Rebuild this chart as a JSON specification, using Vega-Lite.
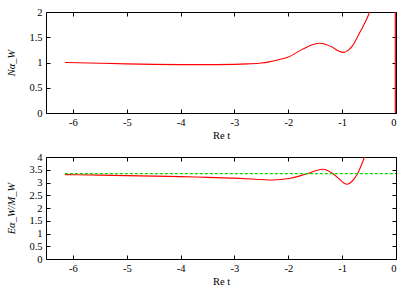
{
  "$schema": "https://vega.github.io/schema/vega-lite/v6.json",
  "padding": {"left": 6, "top": 6, "right": 5, "bottom": 1},
  "spacing": 9,
  "config": {
    "view": {"stroke": "black", "strokeWidth": 1},
    "axis": {
      "labelFont": "Times New Roman", "labelFontSize": 10.5, "labelColor": "black",
      "titleFont": "Times New Roman", "titleFontSize": 10.5, "titleFontWeight": "normal", "titleColor": "black",
      "domain": false, "grid": false, "tickColor": "black", "tickSize": 4, "offset": -4, "labelPadding": 4,
      "labelExpr": "datum.value + ''"
    }
  },
  "vconcat": [
    {
      "width": 350, "height": 101,
      "resolve": {"axis": {"x": "independent", "y": "independent"}},
      "layer": [
        {
          "data": {"values": [
            {"t": -6.15, "v": 1.0},
            {"t": -5.5, "v": 0.985},
            {"t": -5.0, "v": 0.972},
            {"t": -4.5, "v": 0.962},
            {"t": -4.0, "v": 0.957},
            {"t": -3.5, "v": 0.957},
            {"t": -3.0, "v": 0.962},
            {"t": -2.75, "v": 0.972},
            {"t": -2.5, "v": 0.99},
            {"t": -2.36, "v": 1.013},
            {"t": -2.2, "v": 1.05},
            {"t": -2.0, "v": 1.11},
            {"t": -1.74, "v": 1.26},
            {"t": -1.58, "v": 1.34},
            {"t": -1.43, "v": 1.38},
            {"t": -1.3, "v": 1.355},
            {"t": -1.18, "v": 1.30},
            {"t": -1.07, "v": 1.23},
            {"t": -0.97, "v": 1.20},
            {"t": -0.89, "v": 1.24},
            {"t": -0.81, "v": 1.33},
            {"t": -0.69, "v": 1.56},
            {"t": -0.6, "v": 1.74},
            {"t": -0.5, "v": 1.97},
            {"t": -0.4, "v": 2.3},
            {"t": -0.3, "v": 2.8}
          ]},
          "mark": {"type": "line", "color": "#ff0000", "strokeWidth": 1.1, "clip": true, "interpolate": "monotone"},
          "encoding": {
            "x": {"field": "t", "type": "quantitative", "scale": {"domain": [-6.5, 0], "nice": false},
                  "axis": {"values": [-6, -5, -4, -3, -2, -1, 0], "title": "Re t", "titlePadding": 3, "labelPadding": 4}},
            "y": {"field": "v", "type": "quantitative", "scale": {"domain": [0, 2], "nice": false},
                  "axis": {"values": [0, 0.5, 1, 1.5, 2], "title": "Nα_W", "titleFontStyle": "italic", "titlePadding": 12}}
          }
        },
        {
          "data": {"values": [{"t": -0.012, "v": 0, "v2": 2}]},
          "mark": {"type": "rule", "color": "#ff0000", "strokeWidth": 1.2},
          "encoding": {
            "x": {"field": "t", "type": "quantitative", "axis": {"values": [-6, -5, -4, -3, -2, -1, 0], "labels": false, "title": null}},
            "y": {"field": "v", "type": "quantitative", "axis": {"values": [0, 0.5, 1, 1.5, 2], "labels": false, "title": null}},
            "y2": {"field": "v2"}
          }
        }
      ]
    },
    {
      "width": 350, "height": 102,
      "resolve": {"axis": {"x": "independent", "y": "independent"}},
      "layer": [
        {
          "data": {"values": [
            {"t": -6.15, "v": 3.31},
            {"t": -5.5, "v": 3.29},
            {"t": -5.0, "v": 3.27},
            {"t": -4.5, "v": 3.25},
            {"t": -4.0, "v": 3.23},
            {"t": -3.5, "v": 3.20},
            {"t": -3.0, "v": 3.17},
            {"t": -2.6, "v": 3.13},
            {"t": -2.36, "v": 3.10},
            {"t": -2.2, "v": 3.11},
            {"t": -1.99, "v": 3.16},
            {"t": -1.8, "v": 3.25},
            {"t": -1.62, "v": 3.36},
            {"t": -1.48, "v": 3.47},
            {"t": -1.37, "v": 3.52},
            {"t": -1.27, "v": 3.47},
            {"t": -1.18, "v": 3.36},
            {"t": -1.05, "v": 3.13},
            {"t": -0.97, "v": 2.98},
            {"t": -0.905, "v": 2.93},
            {"t": -0.82, "v": 3.04},
            {"t": -0.72, "v": 3.32},
            {"t": -0.6, "v": 3.91},
            {"t": -0.5, "v": 4.5}
          ]},
          "mark": {"type": "line", "color": "#ff0000", "strokeWidth": 1.1, "clip": true, "interpolate": "monotone"},
          "encoding": {
            "x": {"field": "t", "type": "quantitative", "scale": {"domain": [-6.5, 0], "nice": false},
                  "axis": {"values": [-6, -5, -4, -3, -2, -1, 0], "title": "Re t", "titlePadding": 3, "labelPadding": 4}},
            "y": {"field": "v", "type": "quantitative", "scale": {"domain": [0, 4], "nice": false},
                  "axis": {"values": [0, 0.5, 1, 1.5, 2, 2.5, 3, 3.5, 4], "title": "Eα_W/M_W", "titleFontStyle": "italic", "titlePadding": 12}}
          }
        },
        {
          "data": {"values": [
            {"t": -6.15, "v": 3.35},
            {"t": 0, "v": 3.35}
          ]},
          "mark": {"type": "line", "color": "#00dd00", "strokeWidth": 1.2, "strokeDash": [3, 2], "clip": true},
          "encoding": {
            "x": {"field": "t", "type": "quantitative", "axis": {"values": [-6, -5, -4, -3, -2, -1, 0], "labels": false, "title": null}},
            "y": {"field": "v", "type": "quantitative", "axis": {"values": [0, 0.5, 1, 1.5, 2, 2.5, 3, 3.5, 4], "labels": false, "title": null}}
          }
        }
      ]
    }
  ]
}
